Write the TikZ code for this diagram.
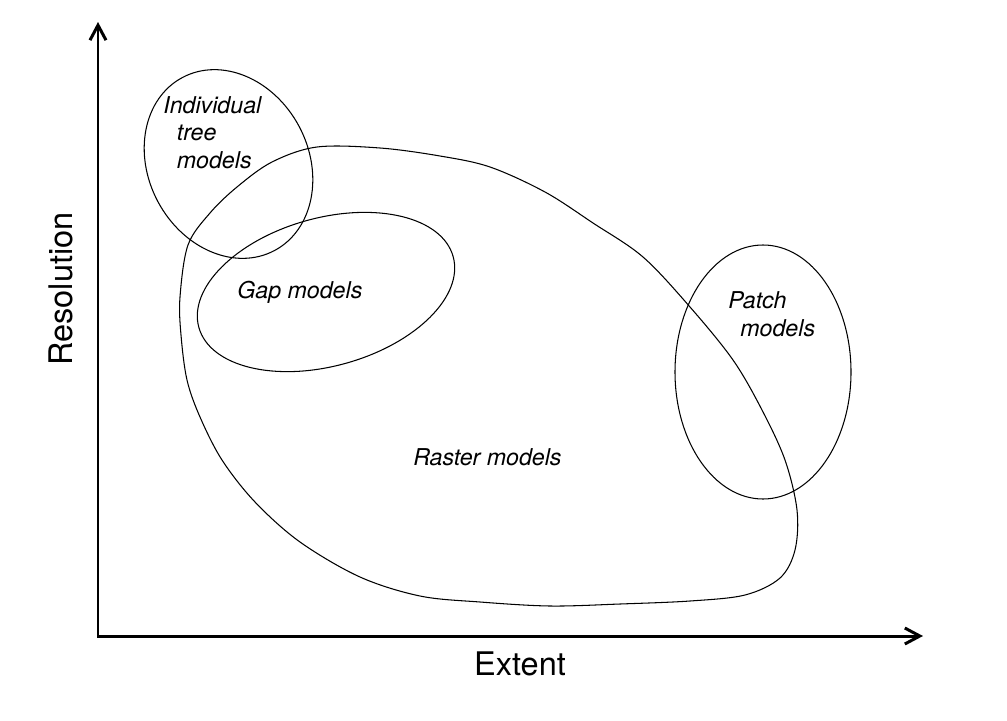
\documentclass[tikz,border=0pt]{standalone}
\usepackage{fontspec}
\setmainfont{TeX Gyre Heros}
\usetikzlibrary{positioning, arrows.meta}

\begin{document}
\begin{tikzpicture}[
        x=0.02cm, y=0.02cm,
        axis/.style={{Straight Barb[length=3mm, width=3.2mm]}-{Straight Barb[length=3mm, width=3.2mm]}, line width=1.7pt, line join=miter},
        region/.style={draw, line width=0.6pt, line join=round},
        lbl/.style={font=\fontsize{13.2}{15.6}\selectfont\itshape, inner sep=0pt, align=left, anchor=base west},
        axlbl/.style={font=\fontsize{18.5}{22}\selectfont, inner sep=0pt}
    ]
        \useasboundingbox (0,0) rectangle (1007,-720);

        % axes
        \coordinate (o) at (98,-636);
        \coordinate (ytop) at (98,-22);
        \coordinate (xend) at (923,-636);
        \draw[axis] (ytop) -- (o) -- (xend);
        \node[axlbl] (extent) at (520,-664) {Extent};
        \node[axlbl, rotate=90] (resolution) at (61,-289) {Resolution};

        % model regions
        \draw[region] plot[smooth cycle, tension=0.55] coordinates {
            (317,-147) (380,-148) (440,-156) (490,-167) (545,-192) (593,-223)
            (643,-257) (690,-307) (733,-360) (762,-410) (785,-460) (797,-510)
            (795,-550) (780,-578) (745,-595) (690,-601) (620,-604) (550,-606)
            (480,-602) (420,-596) (360,-577) (300,-542) (255,-502) (222,-460)
            (200,-417) (187,-380) (181,-335) (180,-297) (188,-245) (210,-213)
            (237,-187) (272,-162)};
        \draw[region, rotate around={28:(228.5,-164)}] (228.5,-164) ellipse [x radius=80, y radius=98];
        \draw[region, rotate around={15.6:(326,-292)}] (326,-292) ellipse [x radius=132, y radius=74];
        \draw[region] (763,-372) ellipse [x radius=88, y radius=127];

        % labels
        \node[lbl] (tree) at (163,-168) {Individual\\\hspace{0.27cm}tree\\\hspace{0.27cm}models};
        \node[lbl] (gap) at (237,-298) {Gap models};
        \node[lbl] (raster) at (413,-465) {Raster models};
        \node[lbl] (patch) at (728,-336) {Patch\\\hspace{0.24cm}models};
\end{tikzpicture}
\end{document}
